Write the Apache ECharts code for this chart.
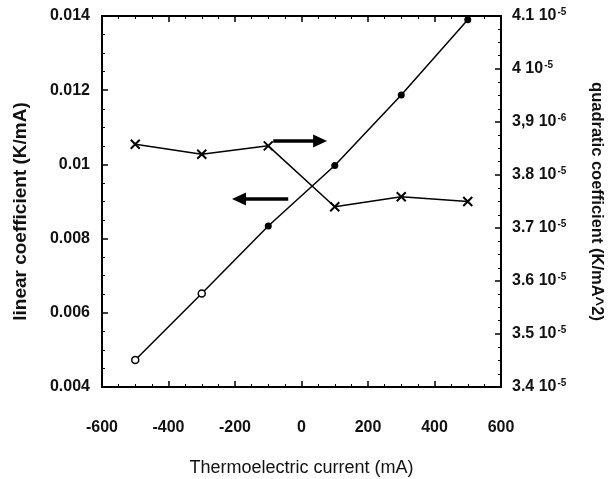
<!DOCTYPE html>
<html><head><meta charset="utf-8">
<script src="https://cdn.jsdelivr.net/npm/echarts@6/dist/echarts.min.js"></script>
<style>html,body{margin:0;padding:0;background:#fff}#c{width:609px;height:479px}</style>
</head><body><div id="c"></div>
<script>
var currents = [-500, -300, -100, 100, 300, 500];
var linearCoef = [0.00473, 0.00652, 0.00834, 0.00997, 0.01187, 0.01390];
var quadCoef = [3.858e-5, 3.839e-5, 3.855e-5, 3.740e-5, 3.759e-5, 3.750e-5];
var xTicks = [-600, -400, -200, 0, 200, 400, 600];
var leftTicks = [0.004, 0.006, 0.008, 0.01, 0.012, 0.014];
var rightTickMantissa = ['3.4', '3.5', '3.6', '3.7', '3.8', '3,9', '4', '4.1'];
var rightTickExp = ['-5', '-5', '-5', '-5', '-5', '-6', '-5', '-5'];
var arrowRight = [[-85, 0.01063], [56, 0.01063]];
var arrowLeft = [[-40, 0.00907], [-188, 0.00907]];

var F = 'Liberation Sans, Arial, sans-serif';
var chart = echarts.init(document.getElementById('c'), null, {renderer: 'canvas'});
var lineAx = {show: true, onZero: false, lineStyle: {color: '#000', width: 2}};
var tick = {show: true, inside: true, length: 6, lineStyle: {color: '#000', width: 1.5}};
var minor = {show: true, splitNumber: 4, length: 3, lineStyle: {color: '#000', width: 1}};

var linData = currents.map(function (x, i) {
  var d = {value: [x, linearCoef[i]]};
  if (i < 2) d.itemStyle = {color: '#fff', borderColor: '#000', borderWidth: 1.5};
  return d;
});

chart.setOption({
  animation: false,
  grid: {left: 102, right: 108, top: 16, bottom: 92, containLabel: false, outerBoundsMode: 'none'},
  xAxis: [{
    type: 'value', position: 'bottom', min: xTicks[0], max: xTicks[xTicks.length - 1], interval: 200,
    axisLine: lineAx, axisTick: tick, minorTick: minor, splitLine: {show: false},
    axisLabel: {margin: 33, color: '#111', fontFamily: F, fontSize: 16, fontWeight: 'bold'},
    name: 'Thermoelectric current (mA)', nameLocation: 'middle', nameGap: 72,
    nameTextStyle: {color: '#111', fontFamily: F, fontSize: 18}
  }, {
    type: 'value', position: 'top', min: xTicks[0], max: xTicks[xTicks.length - 1], interval: 200,
    axisLine: lineAx, axisTick: tick, minorTick: minor, splitLine: {show: false},
    axisLabel: {show: false}
  }],
  yAxis: [{
    type: 'value', position: 'left', min: leftTicks[0], max: leftTicks[leftTicks.length - 1], interval: 0.002,
    axisLine: lineAx, axisTick: tick, minorTick: minor, splitLine: {show: false},
    axisLabel: {margin: 12, color: '#111', fontFamily: F, fontSize: 16, fontWeight: 'bold',
      formatter: function (v) { return String(+v.toFixed(3)); }},
    name: 'linear coefficient (K/mA)', nameLocation: 'middle', nameGap: 72,
    nameTextStyle: {color: '#111', fontFamily: F, fontSize: 19, fontWeight: 'bold', padding: [0, 20, 0, 0]}
  }, {
    type: 'value', position: 'right', min: 3.4e-5, max: 4.1e-5, interval: 0.1e-5,
    axisLine: lineAx, axisTick: tick, minorTick: minor, splitLine: {show: false},
    axisLabel: {margin: 11, fontFamily: F,
      formatter: function (v) {
        var i = Math.round((v - 3.4e-5) / 1e-6);
        return '{m|' + rightTickMantissa[i] + ' 10}{e|' + rightTickExp[i] + '}';
      },
      rich: {
        m: {color: '#111', fontFamily: F, fontSize: 16, fontWeight: 'bold'},
        e: {color: '#111', fontFamily: F, fontSize: 10, fontWeight: 'bold', verticalAlign: 'top', padding: [0, 0, 8, 1]}
      }},
    name: 'quadratic coefficient (K/mA^2)', nameLocation: 'middle', nameGap: 87, nameRotate: -90,
    nameTextStyle: {color: '#111', fontFamily: F, fontSize: 16.5, fontWeight: 'bold'}
  }],
  series: [{
    type: 'line', xAxisIndex: 0, yAxisIndex: 0, data: linData,
    symbol: 'circle', symbolSize: 7,
    itemStyle: {color: '#000'}, lineStyle: {color: '#000', width: 1.5},
    markLine: {
      silent: true, symbol: ['none', 'triangle'], symbolSize: [13, 14],
      label: {show: false},
      lineStyle: {color: '#000', width: 3.5, type: 'solid'},
      data: [
        [{coord: arrowRight[0]}, {coord: arrowRight[1]}],
        [{coord: arrowLeft[0]}, {coord: arrowLeft[1]}]
      ]
    }
  }, {
    type: 'line', xAxisIndex: 0, yAxisIndex: 1,
    data: currents.map(function (x, i) { return [x, quadCoef[i]]; }),
    symbol: 'path://M0,0L10,10M10,0L0,10', symbolSize: 9,
    itemStyle: {color: '#000', borderColor: '#000', borderWidth: 2},
    lineStyle: {color: '#000', width: 1.5}
  }]
});
</script></body></html>
